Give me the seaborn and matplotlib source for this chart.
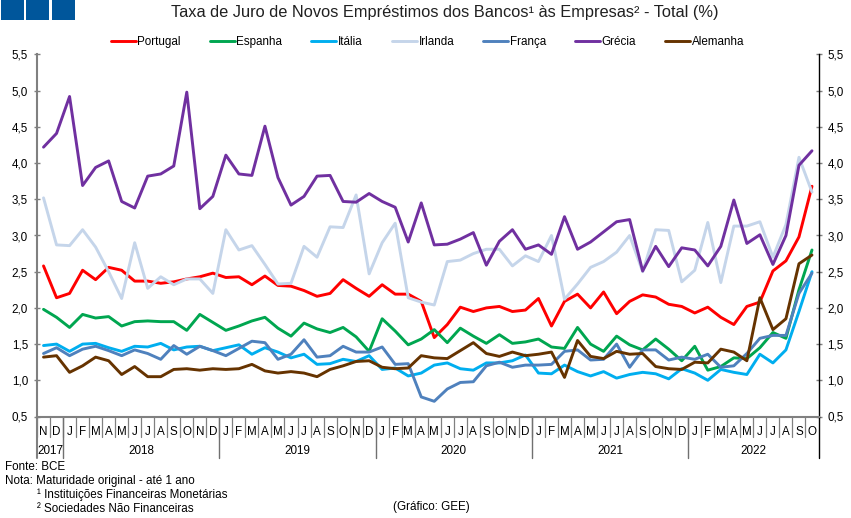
#!/usr/bin/env python3
"""Taxa de juro de novos emprestimos dos bancos as empresas."""

import matplotlib
matplotlib.use("Agg")
import matplotlib.pyplot as plt
from matplotlib.patches import Rectangle
import pandas as pd
import seaborn as sns

months = list("ND") + list("JFMAMJJASOND") * 4 + list("JFMAMJJASO")

years = ["2017", "2018", "2019", "2020", "2021", "2022"]
year_centers = [0.5, 7.5, 19.5, 31.5, 43.5, 54.5]
year_breaks = [1.5, 13.5, 25.5, 37.5, 49.5]

portugal = [2.58, 2.14, 2.20, 2.52, 2.39, 2.56, 2.52, 2.37, 2.37, 2.34, 2.36, 2.40, 2.43, 2.48,
            2.42, 2.43, 2.32, 2.44, 2.31, 2.30, 2.24, 2.16, 2.20, 2.39, 2.27, 2.16,
            2.32, 2.19, 2.19, 2.09, 1.59, 1.77, 2.01, 1.95, 2.00, 2.02, 1.95, 1.97,
            2.13, 1.75, 2.09, 2.19, 2.00, 2.22, 1.92, 2.09, 2.18, 2.15, 2.05, 2.02,
            1.93, 2.01, 1.87, 1.77, 2.02, 2.08, 2.51, 2.65, 2.98, 3.68]
espanha = [1.98, 1.87, 1.73, 1.91, 1.86, 1.88, 1.75, 1.81, 1.82, 1.81, 1.81, 1.69, 1.91, 1.80,
           1.69, 1.75, 1.82, 1.87, 1.72, 1.61, 1.79, 1.71, 1.66, 1.73, 1.60, 1.40,
           1.85, 1.68, 1.49, 1.57, 1.70, 1.52, 1.72, 1.61, 1.51, 1.63, 1.51, 1.53,
           1.57, 1.46, 1.44, 1.73, 1.50, 1.40, 1.61, 1.49, 1.42, 1.57, 1.43, 1.27,
           1.47, 1.14, 1.19, 1.31, 1.30, 1.45, 1.66, 1.58, 2.25, 2.80]
italia = [1.48, 1.50, 1.40, 1.50, 1.51, 1.45, 1.40, 1.47, 1.46, 1.51, 1.42, 1.46, 1.47, 1.41,
          1.45, 1.49, 1.36, 1.45, 1.39, 1.31, 1.36, 1.22, 1.23, 1.29, 1.26, 1.34,
          1.15, 1.17, 1.06, 1.10, 1.21, 1.24, 1.16, 1.14, 1.24, 1.24, 1.27, 1.35,
          1.10, 1.09, 1.21, 1.12, 1.06, 1.12, 1.03, 1.08, 1.11, 1.09, 1.02, 1.16,
          1.10, 1.00, 1.15, 1.11, 1.08, 1.36, 1.24, 1.42, 1.95, 2.50]
irlanda = [3.52, 2.87, 2.86, 3.08, 2.84, 2.50, 2.13, 2.90, 2.27, 2.43, 2.32, 2.40, 2.40, 2.20,
           3.08, 2.80, 2.86, 2.60, 2.33, 2.34, 2.85, 2.70, 3.12, 3.11, 3.56, 2.47,
           2.90, 3.17, 2.14, 2.08, 2.04, 2.64, 2.66, 2.75, 2.81, 2.81, 2.58, 2.72,
           2.64, 3.00, 2.12, 2.33, 2.56, 2.64, 2.77, 3.00, 2.50, 3.08, 3.07, 2.36,
           2.52, 3.18, 2.35, 3.13, 3.13, 3.19, 2.70, 3.15, 4.08, 3.60]
franca = [1.37, 1.45, 1.34, 1.43, 1.47, 1.41, 1.34, 1.42, 1.37, 1.29, 1.48, 1.36, 1.47, 1.41,
          1.34, 1.44, 1.54, 1.52, 1.29, 1.36, 1.56, 1.32, 1.34, 1.47, 1.39, 1.39,
          1.46, 1.22, 1.23, 0.77, 0.71, 0.88, 0.97, 0.98, 1.20, 1.25, 1.18, 1.21,
          1.21, 1.22, 1.40, 1.42, 1.28, 1.29, 1.50, 1.18, 1.42, 1.42, 1.28, 1.32,
          1.29, 1.36, 1.18, 1.20, 1.37, 1.58, 1.62, 1.62, 2.20, 2.48]
grecia = [4.22, 4.41, 4.92, 3.69, 3.94, 4.03, 3.47, 3.38, 3.82, 3.85, 3.96, 4.98, 3.37, 3.54,
          4.11, 3.85, 3.83, 4.51, 3.80, 3.42, 3.54, 3.82, 3.83, 3.47, 3.46, 3.58,
          3.47, 3.39, 2.91, 3.45, 2.87, 2.88, 2.95, 3.04, 2.59, 2.92, 3.08, 2.81,
          2.87, 2.74, 3.26, 2.81, 2.91, 3.05, 3.19, 3.22, 2.51, 2.85, 2.57, 2.83,
          2.80, 2.58, 2.85, 3.49, 2.89, 3.01, 2.60, 3.00, 3.97, 4.17]
alemanha = [1.32, 1.34, 1.11, 1.20, 1.32, 1.27, 1.08, 1.19, 1.05, 1.05, 1.15, 1.16, 1.14, 1.16,
            1.15, 1.16, 1.22, 1.13, 1.10, 1.12, 1.10, 1.05, 1.15, 1.20, 1.26, 1.27,
            1.18, 1.16, 1.17, 1.34, 1.31, 1.30, 1.41, 1.52, 1.37, 1.33, 1.39, 1.34,
            1.36, 1.39, 1.04, 1.55, 1.33, 1.30, 1.40, 1.36, 1.37, 1.19, 1.16, 1.15,
            1.25, 1.24, 1.43, 1.39, 1.27, 2.14, 1.70, 1.85, 2.61, 2.73]

series = {
    "Portugal": portugal,
    "Espanha": espanha,
    "Itália": italia,
    "Irlanda": irlanda,
    "França": franca,
    "Grécia": grecia,
    "Alemanha": alemanha,
}
colors = {
    "Portugal": "#FF0000",
    "Espanha": "#00A650",
    "Itália": "#00AEEF",
    "Irlanda": "#C5D5EA",
    "França": "#4F81BD",
    "Grécia": "#7030A0",
    "Alemanha": "#663300",
}

# Long format for seaborn
df = pd.DataFrame(series)
df["pos"] = range(len(months))
long_df = df.melt(id_vars="pos", var_name="pais", value_name="taxa")

W, H = 851, 518
FS = 8.4
sns.set_theme(style="white")
plt.rcParams["font.family"] = ["Liberation Sans", "DejaVu Sans"]
plt.rcParams["font.size"] = FS

fig = plt.figure(figsize=(W / 100, H / 100), dpi=100)
ax = fig.add_axes([37 / W, 1 - 416.5 / H, (818.5 - 37) / W, (416.5 - 54.5) / H])

sns.lineplot(data=long_df, x="pos", y="taxa", hue="pais", hue_order=list(series),
             palette=colors, linewidth=2.1, ax=ax, legend=True, estimator=None, sort=False)

ax.set_xlim(-0.5, 59.5)
ax.set_ylim(0.5, 5.5)
ax.set_xlabel("")
ax.set_ylabel("")

yticks = [0.5, 1.0, 1.5, 2.0, 2.5, 3.0, 3.5, 4.0, 4.5, 5.0, 5.5]
ylabels = [f"{v:.1f}".replace(".", ",") for v in yticks]
ax.set_yticks(yticks)
ax.set_yticklabels(ylabels, fontsize=FS, color="black")
ax.tick_params(axis="y", which="major", left=True, right=True, labelleft=True, labelright=True,
               direction="inout", length=5, width=1, color="#808080", pad=4)

ax.set_xticks(range(len(months)))
ax.set_xticklabels(months, fontsize=FS, color="black")
ax.tick_params(axis="x", length=0, pad=7)

# Axis lines
ax.spines["top"].set_visible(False)
ax.spines["left"].set_color("#808080")
ax.spines["left"].set_linewidth(1.5)
ax.spines["bottom"].set_color("#808080")
ax.spines["bottom"].set_linewidth(1.5)
ax.spines["right"].set_color("black")
ax.spines["right"].set_linewidth(1)

# Month and year separators under the axis
trans = ax.get_xaxis_transform()
month_low = -20.5 / 362
year_low = -41.5 / 362
for i in range(len(months)):
    ax.plot([i - 0.5, i - 0.5], [0, month_low], transform=trans, color="#808080",
            linewidth=0.9, clip_on=False)
for b in year_breaks:
    ax.plot([b, b], [0, year_low], transform=trans, color="#707070", linewidth=1, clip_on=False)
ax.plot([-0.5, -0.5], [0, year_low], transform=trans, color="#808080", linewidth=1.5, clip_on=False)
ax.plot([59.5, 59.5], [0, year_low], transform=trans, color="black", linewidth=1, clip_on=False)

for label, c in zip(years, year_centers):
    ax.text(c, -35 / 362, label, transform=trans, ha="center", va="center", fontsize=FS, color="black")

# Legend row
handles, labels = ax.get_legend_handles_labels()
fig_leg = ax.legend(handles, labels, ncol=7, frameon=False, loc="center",
                    bbox_to_anchor=(427.5 / W, 1 - 42 / H), bbox_transform=fig.transFigure,
                    fontsize=FS, handlelength=2.14, handletextpad=0.15, columnspacing=2.48,
                    borderpad=0, labelcolor="black")
for line in fig_leg.get_lines():
    line.set_linewidth(2.1)

fig.text(445 / W, 1 - 13 / H, "Taxa de Juro de Novos Empréstimos dos Bancos¹ às Empresas² - Total (%)",
         ha="center", va="center", fontsize=11.8, color="#202020")

# Logo blocks at top left
for x0 in [1, 26, 52]:
    fig.add_artist(Rectangle((x0 / W, 1 - 20 / H), 23 / W, 20 / H, transform=fig.transFigure,
                             facecolor="#00569B", edgecolor="none"))

# Footnotes
fig.text(5 / W, 1 - 467 / H, "Fonte: BCE", va="center", fontsize=FS, color="black")
fig.text(5 / W, 1 - 481 / H, "Nota: Maturidade original - até 1 ano", va="center", fontsize=FS, color="black")
fig.text(37 / W, 1 - 494.5 / H, "¹ Instituições Financeiras Monetárias", va="center", fontsize=FS, color="black")
fig.text(37 / W, 1 - 508.5 / H, "² Sociedades Não Financeiras", va="center", fontsize=FS, color="black")
fig.text(393 / W, 1 - 507 / H, "(Gráfico: GEE)", va="center", fontsize=FS, color="black")

fig.savefig("out.png", dpi=100)
